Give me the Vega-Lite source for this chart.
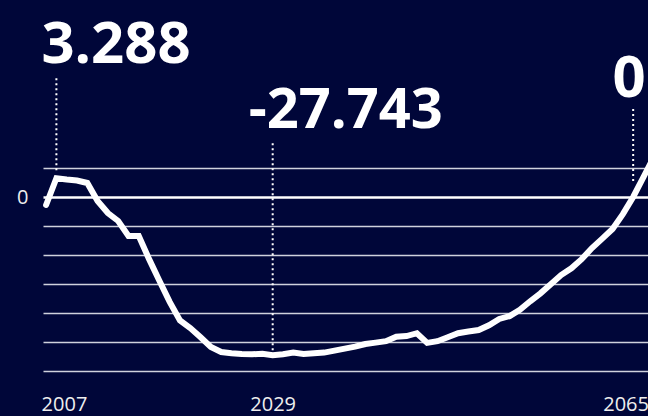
{
  "$schema": "https://vega.github.io/schema/vega-lite/v6.json",
  "width": 605,
  "height": 203,
  "autosize": "none",
  "padding": {"left": 43, "top": 168, "right": 0, "bottom": 45},
  "background": "#000639",
  "config": {"view": {"stroke": null}, "font": "Open Sans"},
  "datasets": {
    "series": [
      {"year": 2007, "value": -1.4},
      {"year": 2008, "value": 3.288},
      {"year": 2009, "value": 3.07},
      {"year": 2010, "value": 2.9},
      {"year": 2011, "value": 2.46},
      {"year": 2012, "value": -0.7},
      {"year": 2013, "value": -2.81},
      {"year": 2014, "value": -4.21},
      {"year": 2015, "value": -6.85},
      {"year": 2016, "value": -6.85},
      {"year": 2017, "value": -10.9},
      {"year": 2018, "value": -14.7},
      {"year": 2019, "value": -18.4},
      {"year": 2020, "value": -21.65},
      {"year": 2021, "value": -23.0},
      {"year": 2022, "value": -24.6},
      {"year": 2023, "value": -26.3},
      {"year": 2024, "value": -27.2},
      {"year": 2025, "value": -27.4},
      {"year": 2026, "value": -27.55},
      {"year": 2027, "value": -27.6},
      {"year": 2028, "value": -27.5},
      {"year": 2029, "value": -27.743},
      {"year": 2030, "value": -27.6},
      {"year": 2031, "value": -27.3},
      {"year": 2032, "value": -27.55},
      {"year": 2033, "value": -27.4},
      {"year": 2034, "value": -27.3},
      {"year": 2035, "value": -26.95},
      {"year": 2036, "value": -26.6},
      {"year": 2037, "value": -26.25},
      {"year": 2038, "value": -25.8},
      {"year": 2039, "value": -25.55},
      {"year": 2040, "value": -25.3},
      {"year": 2041, "value": -24.5},
      {"year": 2042, "value": -24.4},
      {"year": 2043, "value": -23.9},
      {"year": 2044, "value": -25.6},
      {"year": 2045, "value": -25.3},
      {"year": 2046, "value": -24.6},
      {"year": 2047, "value": -23.9},
      {"year": 2048, "value": -23.6},
      {"year": 2049, "value": -23.35},
      {"year": 2050, "value": -22.5},
      {"year": 2051, "value": -21.4},
      {"year": 2052, "value": -20.9},
      {"year": 2053, "value": -19.8},
      {"year": 2054, "value": -18.3},
      {"year": 2055, "value": -16.9},
      {"year": 2056, "value": -15.3},
      {"year": 2057, "value": -13.7},
      {"year": 2058, "value": -12.5},
      {"year": 2059, "value": -10.9},
      {"year": 2060, "value": -8.96},
      {"year": 2061, "value": -7.3},
      {"year": 2062, "value": -5.6},
      {"year": 2063, "value": -3.0},
      {"year": 2064, "value": 0},
      {"year": 2065, "value": 3.5},
      {"year": 2066, "value": 7.0}
    ],
    "notes": [
      {"year": 2008, "value": 3.288, "label": "3.288"},
      {"year": 2029, "value": -27.743, "label": "-27.743"},
      {"year": 2064, "value": 0, "label": "0"}
    ]
  },
  "encoding": {
    "x": {
      "field": "year",
      "type": "quantitative",
      "scale": {"domain": [2006.7, 2065.44], "nice": false, "zero": false},
      "axis": {
        "title": null,
        "values": [2007, 2029, 2065],
        "format": "d",
        "grid": false,
        "ticks": false,
        "tickSize": 0,
        "domain": false,
        "labelFlush": 12,
        "labelFlushOffset": 5,
        "labelPadding": 23,
        "labelFontSize": 20,
        "labelFont": "Open Sans",
        "labelColor": "#eeeeee",
        "labelOverlap": false
      }
    },
    "y": {
      "field": "value",
      "type": "quantitative",
      "scale": {"domain": [-30.528, 5.088], "nice": false, "zero": false},
      "axis": {
        "title": null,
        "values": [5.088, 0, -5.088, -10.176, -15.264, -20.352, -25.44, -30.528],
        "labelExpr": "datum.value == 0 ? '0' : ''",
        "ticks": false,
        "tickSize": 0,
        "domain": false,
        "labelPadding": 15,
        "labelFontSize": 20,
        "labelFont": "Open Sans",
        "labelColor": "#eeeeee",
        "labelOverlap": false,
        "gridColor": {"condition": {"test": "datum.value == 0", "value": "#ffffff"}, "value": "#cfd1dd"},
        "gridWidth": {"condition": {"test": "datum.value == 0", "value": 2.5}, "value": 1.4}
      }
    }
  },
  "layer": [
    {
      "data": {"name": "series"},
      "mark": {"type": "line", "color": "#ffffff", "strokeWidth": 6, "strokeCap": "round", "strokeJoin": "miter", "clip": false}
    },
    {
      "data": {"name": "notes"},
      "transform": [{"filter": "datum.year == 2008"}],
      "mark": {"type": "rule", "color": "#ffffff", "strokeWidth": 2, "strokeDash": [2, 3], "yOffset": -8, "y2Offset": -103},
      "encoding": {"y2": {"field": "value"}}
    },
    {
      "data": {"name": "notes"},
      "transform": [{"filter": "datum.year == 2029"}],
      "mark": {"type": "rule", "color": "#ffffff", "strokeWidth": 2, "strokeDash": [2, 3], "yOffset": -5, "y2Offset": -215},
      "encoding": {"y2": {"field": "value"}}
    },
    {
      "data": {"name": "notes"},
      "transform": [{"filter": "datum.year == 2064"}],
      "mark": {"type": "rule", "color": "#ffffff", "strokeWidth": 2, "strokeDash": [2, 3], "yOffset": -16, "y2Offset": -90},
      "encoding": {"y2": {"field": "value"}}
    },
    {
      "data": {"name": "notes"},
      "transform": [{"filter": "datum.year == 2008"}],
      "mark": {"type": "text", "align": "left", "baseline": "alphabetic", "dx": -15, "dy": -115, "fontSize": 58, "fontWeight": "bold", "font": "Open Sans", "color": "#ffffff"},
      "encoding": {"text": {"field": "label"}}
    },
    {
      "data": {"name": "notes"},
      "transform": [{"filter": "datum.year == 2029"}],
      "mark": {"type": "text", "align": "left", "baseline": "alphabetic", "dx": -24, "dy": -227, "fontSize": 56, "fontWeight": "bold", "font": "Open Sans", "color": "#ffffff"},
      "encoding": {"text": {"field": "label"}}
    },
    {
      "data": {"name": "notes"},
      "transform": [{"filter": "datum.year == 2064"}],
      "mark": {"type": "text", "align": "center", "baseline": "alphabetic", "dx": -4, "dy": -100, "fontSize": 58, "fontWeight": "bold", "font": "Open Sans", "color": "#ffffff"},
      "encoding": {"text": {"field": "label"}}
    }
  ]
}
